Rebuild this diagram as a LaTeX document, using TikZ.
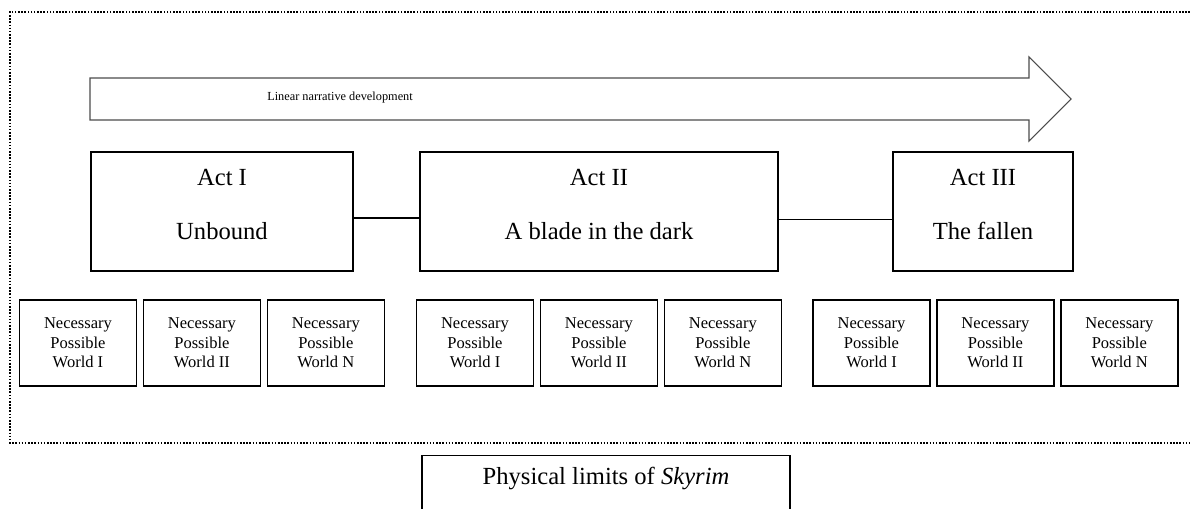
\documentclass[tikz,border=0pt]{standalone}
\usepackage{fontspec}
\setmainfont{Liberation Serif}
\usetikzlibrary{positioning}
\begin{document}
\begin{tikzpicture}[x=0.2mm, y=-0.2mm, node distance={1.1mm},
    act/.style = {draw, line width=0.7pt, align=center, font=\fontsize{14}{30.7}\selectfont, text height=40pt, text depth=8.7pt, inner sep=0pt, minimum height=23.8mm},
    world/.style = {draw, line width=0.8pt, align=center, font=\fontsize{9.4}{11.1}\selectfont, inner sep=0pt, minimum height=17.2mm, minimum width=23.4mm},
    limits/.style = {draw, line width=0.8pt, anchor=north, font=\fontsize{14}{16}\selectfont, minimum width=73.6mm, inner xsep=0pt, inner ysep=6.6pt, text height=9.7pt, text depth=30pt}]
    \useasboundingbox (0,0) rectangle (1190,508);
    % frame, open on the right
    \draw[line width=0.9pt, dash pattern=on 0.9pt off 0.9pt] (1190,12) -- (10,12) -- (10,443) -- (1190,443);
    % the big arrow
    \draw[line width=0.6pt, black!70] (90,78) -- (1029,78) -- (1029,57) -- (1071,99) -- (1029,141) -- (1029,120) -- (90,120) -- cycle;
    \node[font=\fontsize{7}{9}\selectfont] (lnd) at (340,98) {Linear narrative development};
    \node[act, minimum width=52.4mm] (act1) at (222,211.5) {Act I\\Unbound};
    \node[act, minimum width=71.6mm] (act2) at (599,211.5) {Act II\\A blade in the dark};
    \node[act, minimum width=36mm] (act3) at (983,211.5) {Act III\\The fallen};
    \draw[line width=0.7pt] ([yshift=-1.3mm]act1.east) -- ([yshift=-1.3mm]act2.west);
    \draw[line width=0.7pt] ([yshift=-1.6mm]act2.east) -- ([yshift=-1.6mm]act3.west);
    \node[world] (w1) at (78,343) {Necessary\\Possible\\World I};
    \node[world] (w2) [right=of w1] {Necessary\\Possible\\World II};
    \node[world] (w3) [right=of w2] {Necessary\\Possible\\World N};
    \node[world] (w4) at (475,343) {Necessary\\Possible\\World I};
    \node[world] (w5) [right=of w4] {Necessary\\Possible\\World II};
    \node[world] (w6) [right=of w5] {Necessary\\Possible\\World N};
    \node[world] (w7) at (871.5,343) {Necessary\\Possible\\World I};
    \node[world] (w8) [right=of w7] {Necessary\\Possible\\World II};
    \node[world] (w9) [right=of w8] {Necessary\\Possible\\World N};
    \node[limits] (lim) at (606,455) {Physical limits of \textit{Skyrim}};
\end{tikzpicture}
\end{document}
